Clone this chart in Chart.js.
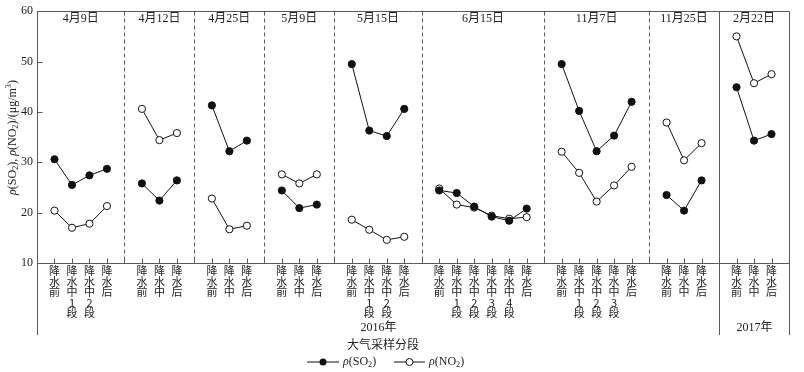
<!DOCTYPE html>
<html>
<head>
<meta charset="utf-8">
<script src="https://cdn.jsdelivr.net/npm/chart.js@4.4.1/dist/chart.umd.min.js"></script>
<style>
  html, body { margin: 0; padding: 0; background: #fff; }
  #wrap { width: 804px; height: 372px; }
</style>
</head>
<body>
<div id="wrap"><canvas id="chart" width="804" height="372"></canvas></div>
<script>
// Datat: data e mostrimit, fazat e reshjeve dhe vlerat e SO2 / NO2
var dates = ["4月9日", "4月12日", "4月25日", "5月9日", "5月15日", "6月15日", "11月7日", "11月25日", "2月22日"];

var stages = [
    ["降水前", "降水中1段", "降水中2段", "降水后"],
    ["降水前", "降水中", "降水后"],
    ["降水前", "降水中", "降水后"],
    ["降水前", "降水中", "降水后"],
    ["降水前", "降水中1段", "降水中2段", "降水后"],
    ["降水前", "降水中1段", "降水中2段", "降水中3段", "降水中4段", "降水后"],
    ["降水前", "降水中1段", "降水中2段", "降水中3段", "降水后"],
    ["降水前", "降水中", "降水后"],
    ["降水前", "降水中", "降水后"]
];

var so2 = [
    [30.6, 25.5, 27.4, 28.7],
    [25.8, 22.4, 26.4],
    [41.3, 32.2, 34.3],
    [24.4, 20.9, 21.6],
    [49.5, 36.3, 35.2, 40.6],
    [24.4, 23.9, 21.2, 19.2, 18.4, 20.8],
    [49.5, 40.2, 32.2, 35.3, 42.0],
    [23.5, 20.4, 26.4],
    [44.9, 34.3, 35.6]
];

var no2 = [
    [20.4, 17.0, 17.8, 21.3],
    [40.6, 34.4, 35.8],
    [22.8, 16.7, 17.4],
    [27.6, 25.8, 27.6],
    [18.6, 16.6, 14.6, 15.2],
    [24.8, 21.6, 21.0, 19.4, 18.8, 19.1],
    [32.1, 27.9, 22.2, 25.4, 29.1],
    [37.9, 30.4, 33.8],
    [55.0, 45.7, 47.5]
];

var years = ["2016年", "2017年"];
var yTicks = [10, 20, 30, 40, 50, 60];

// Ndërtojmë etiketat e boshtit me vende bosh si ndarës
var labels = [""];
var so2Flat = [null];
var no2Flat = [null];
var separators = [];
for (var g = 0; g < dates.length; g++) {
    for (var k = 0; k < stages[g].length; k++) {
        labels.push(stages[g][k]);
        so2Flat.push(so2[g][k]);
        no2Flat.push(no2[g][k]);
    }
    if (g < dates.length - 1) separators.push(labels.length);
    labels.push("");
    so2Flat.push(null);
    no2Flat.push(null);
}

var AXIS = "#5a5a5a";
var SERIF = "'Liberation Serif', 'Noto Sans CJK SC', serif";

// Shkrim me pjesë kursive, indekse dhe eksponentë
function richWidth(ctx, parts, size) {
    var w = 0;
    parts.forEach(function(p) {
        var s = (p.sub || p.sup) ? size * 0.68 : size;
        ctx.font = (p.it ? "italic " : "") + s + "px " + SERIF;
        w += ctx.measureText(p.t).width;
    });
    return w;
}
function drawRich(ctx, x, y, parts, size, align) {
    var w = richWidth(ctx, parts, size);
    var cx = align === "center" ? x - w / 2 : x;
    ctx.textAlign = "left";
    ctx.textBaseline = "middle";
    parts.forEach(function(p) {
        var s = (p.sub || p.sup) ? size * 0.68 : size;
        ctx.font = (p.it ? "italic " : "") + s + "px " + SERIF;
        var dy = p.sub ? size * 0.25 : (p.sup ? -size * 0.33 : 0);
        ctx.fillText(p.t, cx, y + dy);
        cx += ctx.measureText(p.t).width;
    });
}

var so2Text = [{t: "ρ", it: true}, {t: "(SO"}, {t: "2", sub: true}, {t: ")"}];
var no2Text = [{t: "ρ", it: true}, {t: "(NO"}, {t: "2", sub: true}, {t: ")"}];
var yTitle = [{t: "ρ", it: true}, {t: "(SO"}, {t: "2", sub: true}, {t: "), "},
              {t: "ρ", it: true}, {t: "(NO"}, {t: "2", sub: true}, {t: ")/(μg/m"},
              {t: "3", sup: true}, {t: ")"}];

var decor = {
    id: "decor",
    afterDraw: function(chart) {
        var ctx = chart.ctx;
        var a = chart.chartArea;
        var xs = chart.scales.x;
        var ys = chart.scales.y;
        var yearIdx = separators[separators.length - 1];
        var yearX = Math.round(xs.getPixelForValue(yearIdx)) + 0.5;
        var L = Math.round(a.left) + 0.5, R = Math.round(a.right) + 0.5;
        var T = Math.round(a.top) + 0.5, B = Math.round(a.bottom) + 0.5;
        var low = 335;
        ctx.save();
        ctx.strokeStyle = AXIS;
        ctx.lineWidth = 1;

        // ndarësit me vija të ndërprera
        ctx.setLineDash([4, 3]);
        separators.forEach(function(s) {
            if (s === yearIdx) return;
            var x = Math.round(xs.getPixelForValue(s)) + 0.5;
            ctx.beginPath(); ctx.moveTo(x, T); ctx.lineTo(x, B); ctx.stroke();
        });
        ctx.setLineDash([]);

        // korniza dhe vijat e gjata të viteve
        ctx.beginPath();
        ctx.moveTo(L, T); ctx.lineTo(R, T);
        ctx.moveTo(L, B); ctx.lineTo(R, B);
        ctx.moveTo(L, T); ctx.lineTo(L, low);
        ctx.moveTo(R, T); ctx.lineTo(R, low);
        ctx.moveTo(yearX, T); ctx.lineTo(yearX, low);
        ctx.stroke();

        // vizat e brendshme
        ctx.beginPath();
        for (var i = 1; i < labels.length - 1; i++) {
            var x = Math.round(xs.getPixelForValue(i)) + 0.5;
            ctx.moveTo(x, B); ctx.lineTo(x, B - 5);
        }
        yTicks.forEach(function(v) {
            var y = Math.round(ys.getPixelForValue(v)) + 0.5;
            ctx.moveTo(L, y); ctx.lineTo(L + 5, y);
        });
        ctx.stroke();

        // datat sipër secilit grup
        ctx.fillStyle = "#222";
        ctx.font = "12px " + SERIF;
        ctx.textAlign = "center";
        ctx.textBaseline = "middle";
        var edges = [0].concat(separators).concat([labels.length - 1]);
        dates.forEach(function(d, j) {
            var cx = (xs.getPixelForValue(edges[j]) + xs.getPixelForValue(edges[j + 1])) / 2;
            ctx.fillText(d, cx, 19);
        });

        // vitet dhe titulli i boshtit X
        ctx.fillText(years[0], (L + yearX) / 2, 328);
        ctx.fillText(years[1], (yearX + R) / 2, 328);
        ctx.fillText("大气采样分段", 383, 346);

        // legjenda
        ctx.strokeStyle = "#111";
        ctx.beginPath();
        ctx.moveTo(307, 362); ctx.lineTo(339, 362);
        ctx.moveTo(394, 362); ctx.lineTo(425, 362);
        ctx.stroke();
        ctx.fillStyle = "#111";
        ctx.beginPath(); ctx.arc(323, 362, 3.5, 0, Math.PI * 2); ctx.fill();
        ctx.fillStyle = "#fff";
        ctx.beginPath(); ctx.arc(409.5, 362, 3.5, 0, Math.PI * 2); ctx.fill(); ctx.stroke();
        ctx.fillStyle = "#222";
        drawRich(ctx, 343, 362, so2Text, 12, "left");
        drawRich(ctx, 429, 362, no2Text, 12, "left");

        // titulli i boshtit Y
        ctx.translate(13, (T + B) / 2);
        ctx.rotate(-Math.PI / 2);
        drawRich(ctx, 0, 0, yTitle, 12, "center");
        ctx.restore();
    }
};

var canvas = document.getElementById("chart");
var grafiku = new Chart(canvas, {
    type: "line",
    data: {
        labels: labels,
        datasets: [
            {
                label: "ρ(SO2)",
                data: so2Flat,
                borderColor: "#111",
                borderWidth: 1,
                pointRadius: 3.6,
                pointBackgroundColor: "#111",
                pointBorderColor: "#111",
                pointBorderWidth: 1,
                spanGaps: false
            },
            {
                label: "ρ(NO2)",
                data: no2Flat,
                borderColor: "#111",
                borderWidth: 1,
                pointRadius: 3.6,
                pointBackgroundColor: "#fff",
                pointBorderColor: "#111",
                pointBorderWidth: 1,
                spanGaps: false
            }
        ]
    },
    options: {
        responsive: false,
        animation: false,
        events: [],
        layout: { padding: { left: 0, right: 15, top: 10, bottom: 0 } },
        plugins: {
            legend: { display: false },
            tooltip: { enabled: false }
        },
        scales: {
            x: {
                type: "category",
                offset: false,
                grid: { display: false, drawTicks: false },
                border: { display: false },
                afterFit: function(scale) { scale.height = 109; },
                ticks: {
                    autoSkip: false,
                    maxRotation: 0,
                    minRotation: 0,
                    padding: 3,
                    color: "#222",
                    font: { family: "'Noto Sans CJK SC', sans-serif", size: 11, lineHeight: 0.95 },
                    callback: function(value) {
                        var s = this.getLabelForValue(value);
                        return s ? s.split("") : "";
                    }
                }
            },
            y: {
                min: 10,
                max: 60,
                grid: { display: false, drawTicks: false },
                border: { display: false },
                afterFit: function(scale) { scale.width = 37; },
                ticks: {
                    stepSize: 10,
                    padding: 4,
                    color: "#222",
                    font: { family: SERIF, size: 12 }
                }
            }
        }
    },
    plugins: [decor]
});
</script>
</body>
</html>
